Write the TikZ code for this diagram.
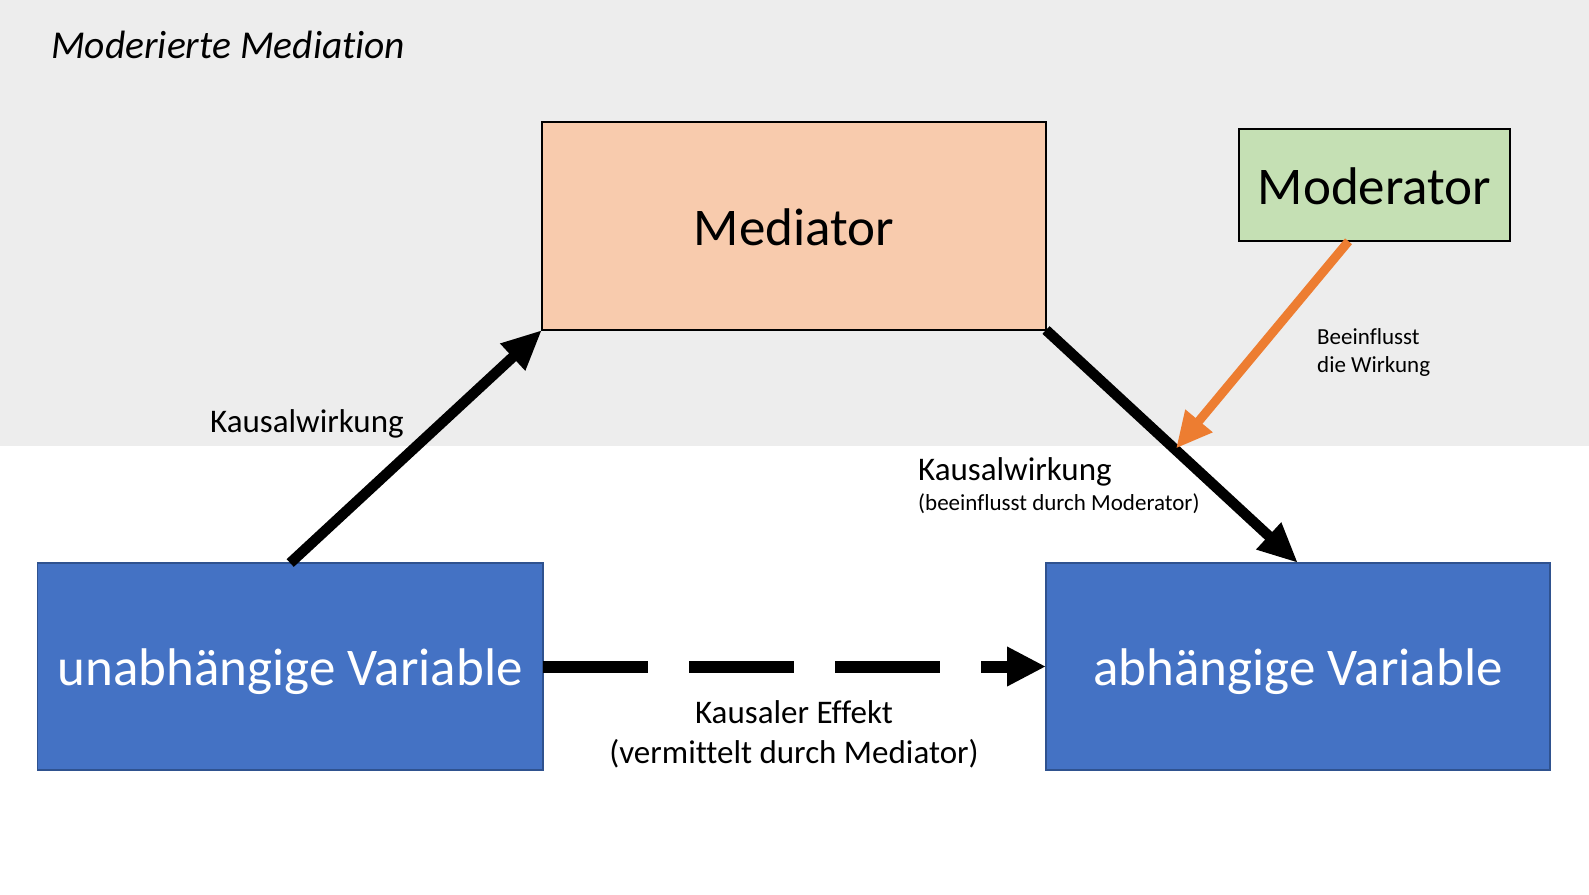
\documentclass[tikz,border=0pt]{standalone}
\usepackage{fontspec}
\setmainfont{Carlito}[Ligatures={NoCommon}]
\usetikzlibrary{arrows.meta,calc}
\definecolor{bggrey}{HTML}{EDEDED}
\definecolor{medfill}{HTML}{F8CBAD}
\definecolor{modfill}{HTML}{C5E0B4}
\definecolor{varblue}{HTML}{4472C4}
\definecolor{varborder}{HTML}{2F528F}
\definecolor{modorange}{HTML}{ED7D31}
\tikzset{
  bigbox/.style={rectangle, inner sep=0pt, outer sep=0pt, font=\fontsize{53}{63}\selectfont, text height=38.5pt, text depth=0pt},
  medbox/.style={bigbox, draw=black, line width=2pt, fill=medfill},
  modbox/.style={bigbox, draw=black, line width=2pt, fill=modfill},
  varbox/.style={bigbox, draw=varborder, line width=1.5pt, fill=varblue, text=white},
  causal/.style={line width=10.5pt, -{Triangle[length=40pt,width=34pt]}},
  moderating/.style={line width=9pt, draw=modorange, -{Triangle[length=36pt,width=33pt]}},
  mediated/.style={line width=12pt, dash pattern=on 105pt off 41pt, -{Triangle[length=39pt,width=37pt]}},
  lbl/.style={inner sep=0pt, anchor=base west, font=\fontsize{33}{40}\selectfont},
  smalllbl/.style={inner sep=0pt, anchor=base west, font=\fontsize{23}{28}\selectfont},
}
\begin{document}
\begin{tikzpicture}[x=1pt,y=-1pt]
  \useasboundingbox (0,0) rectangle (1589,894);
  \fill[white] (0,0) rectangle (1589,894);
  \fill[bggrey] (0,0) rectangle (1589,446);

  \node[inner sep=0pt, anchor=base west, font=\itshape\fontsize{39.5}{47}\selectfont] (title) at (51,58.3) {Moderierte Mediation};

  \node[medbox, minimum width=504pt, minimum height=208pt] (med) at (794,226) {Mediator};
  \node[modbox, minimum width=271pt, minimum height=112.6pt] (mod) at (1374.5,185) {Moderator};
  \node[varbox, minimum width=505.7pt, minimum height=207pt] (uv) at (290.2,666.5) {unabhängige Variable};
  \node[varbox, minimum width=504pt, minimum height=207pt] (av) at (1298,666.5) {abhängige Variable};

  \draw[causal] (uv.north) -- (med.south west);
  \draw[causal] (med.south east) -- coordinate[pos=0.5] (hit) (av.north);
  \coordinate (modout) at ([xshift=-26pt]mod.south);
  \draw[moderating] (modout) -- ([xshift=4pt,yshift=-2pt]hit);
  \draw[mediated] (uv.east) -- (av.west);

  \node[lbl] (k1) at (210,432) {Kausalwirkung};
  \node[lbl] (k2) at (918,480) {Kausalwirkung};
  \node[smalllbl] (k2b) at (918,510) {(beeinflusst durch Moderator)};
  \node[smalllbl] (b1) at (1317,344) {Beeinflusst};
  \node[smalllbl] (b2) at (1317,372) {die Wirkung};
  \node[inner sep=0pt, anchor=base, font=\fontsize{33}{40}\selectfont] (e1) at (794,723) {Kausaler Effekt};
  \node[inner sep=0pt, anchor=base, font=\fontsize{33}{40}\selectfont] (e2) at (794,763) {(vermittelt durch Mediator)};
\end{tikzpicture}
\end{document}
